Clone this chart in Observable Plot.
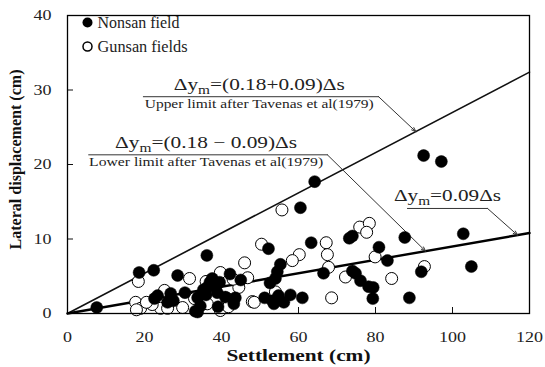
<!DOCTYPE html>
<html><head><meta charset="utf-8">
<script src="https://cdn.jsdelivr.net/npm/d3@7"></script>
<script src="https://cdn.jsdelivr.net/npm/@observablehq/plot@0.6"></script>
<style>
body{margin:0;background:#fff}
svg{font-family:"Liberation Serif","Times New Roman",serif}
</style>
</head><body><div id="chart"></div>
<script>
// ---- data (settlement cm, lateral displacement cm) ----
const nonsanSettlement = [7.6,18.6,22.4,36.2,28.6,52.2,64.2,60.5,63.3,55.3,54.5,54.0,66.5,73.2,74.0,74.0,74.8,76.1,78.2,79.4,79.3,80.9,61.0,57.9,54.8,53.2,92.5,97.1,87.6,102.8,83.1,104.9,91.9,88.8,42.2,37.0,39.5,35.3,27.5,33.8,33.8,39.1,43.6,51.2,52.6,23.4,22.6,26.0,43.2,53.6,56.2,38.5,36.0,41.0,45.0,34.5,30.5,26.8,36.3,37.6,38.9,33.2];
const nonsanLateral    = [0.8,5.5,5.8,7.8,5.1,8.7,17.7,14.2,9.5,6.6,5.6,4.7,5.4,10.1,10.4,5.7,5.4,4.4,3.6,3.5,2.0,8.9,2.1,2.5,2.4,1.7,21.2,20.4,10.2,10.7,7.1,6.3,5.6,2.1,5.3,4.2,4.2,3.2,1.7,2.1,0.2,0.9,2.1,2.1,4.1,2.4,2.0,1.5,1.3,1.3,1.5,3.6,2.5,2.2,4.5,1.0,2.8,2.7,3.5,4.7,2.8,0.3];
const gunsanSettlement = [18.4,31.7,50.4,46.0,39.7,46.8,29.9,39.7,36.3,41.5,48.0,55.7,67.2,67.5,60.2,58.4,67.8,75.9,78.4,77.7,72.2,79.9,68.6,54.0,92.7,84.2,17.7,19.0,24.2,25.2,26.0,17.9,41.8,48.5,22.0,20.5,33.0,44.5,36.0,43.0];
const gunsanLateral    = [4.3,4.7,9.3,6.8,5.5,4.8,0.8,0.4,1.3,2.0,1.6,13.9,9.5,7.9,7.9,7.1,6.2,11.6,12.1,10.9,4.9,7.6,2.1,2.9,6.3,4.7,1.5,0.7,0.7,3.1,0.7,0.5,0.9,1.5,1.2,1.5,2.0,3.5,4.3,4.6];

const seriesNames = ["Nonsan field", "Gunsan fields"];
const xLabel = "Settlement (cm)";
const yLabel = "Lateral displacement (cm)";
const xTicks = [0,20,40,60,80,100,120];
const yTicks = [0,10,20,30,40];
const xInnerTicks = [20,40,60,80,100];
const yInnerTicks = [10,20,30];

// bounding lines (endpoints, settlement -> displacement)
const upperLineX = [0,120], upperLineY = [0,32.4];   // 0.27 Δs
const lowerLineX = [0,120], lowerLineY = [0,10.8];   // 0.09 Δs

// annotations
const formulaLabels = ["Δym=(0.18+0.09)Δs", "Δym=(0.18 − 0.09)Δs", "Δym=0.09Δs"];
const limitLabels = ["Upper limit after Tavenas et al(1979)", "Lower limit after Tavenas et al(1979)", ""];
const leaderStartX = [19.7, 5.5, 88.3];
const leaderBendX  = [80.8, 67.5, 109.1];
const leaderY      = [29.1, 21.3, 14.1];
const leaderTipX   = [90.5, 93.0, 116.9];
const leaderTipY   = [24.4, 8.37, 10.52];
const formulaX     = [49.8, 36.0, 98.7];

// rendered widths of texts (px) – the reference type is horizontally stretched
const formulaWidths = [171, 182, 107];
const limitWidths = [229, 234];
const legendWidths = [82, 90];
const xLabelWidth = 144, yLabelWidth = 180;

const nonsan = nonsanSettlement.map((s,i)=>({s, d:nonsanLateral[i]}));
const gunsan = gunsanSettlement.map((s,i)=>({s, d:gunsanLateral[i]}));
const upper = upperLineX.map((x,i)=>({x, y:upperLineY[i]}));
const lower = lowerLineX.map((x,i)=>({x, y:lowerLineY[i]}));
const ann = formulaLabels.map((f,i)=>({f, l:limitLabels[i], x0:leaderStartX[i], x1:leaderBendX[i], y:leaderY[i], tx:leaderTipX[i], ty:leaderTipY[i], fx:formulaX[i]}));
const underlines = ann.flatMap((a,i)=>[{i, x:a.x0, y:a.y},{i, x:a.x1, y:a.y}]);

const W = 545, H = 367, mL = 67, mR = 16, mT = 15, mB = 54;
const innerW = W - mL - mR, innerH = H - mT - mB;

const chart = Plot.plot({
  width: W, height: H,
  marginLeft: mL, marginRight: mR, marginTop: mT, marginBottom: mB,
  x: {domain: [0,120]},
  y: {domain: [0,40]},
  style: {fontFamily: '"Liberation Serif","Times New Roman",serif', background: "#fff"},
  marks: [
    Plot.axisX({ticks: xTicks, tickSize: 0, tickPadding: 18, fontSize: 15, fill: "#222", label: null}),
    Plot.axisY({ticks: yTicks, tickSize: 0, tickPadding: 16, fontSize: 15, fill: "#222", label: null}),
    Plot.ruleX(xInnerTicks, {x: d=>d, insetTop: innerH - 6, stroke: "#111", strokeWidth: 1}),
    Plot.ruleY(yInnerTicks, {y: d=>d, insetRight: innerW - 6, stroke: "#111", strokeWidth: 1}),
    Plot.line(upper, {x:"x", y:"y", stroke:"#111", strokeWidth:1.6}),
    Plot.line(lower, {x:"x", y:"y", stroke:"#000", strokeWidth:2.4}),
    Plot.line(underlines, {x:"x", y:"y", z:"i", stroke:"#333", strokeWidth:1}),
    Plot.arrow(ann, {x1:"x1", y1:"y", x2:"tx", y2:"ty", stroke:"#333", strokeWidth:1, headLength:7, headAngle:40}),
    Plot.dot(gunsan, {x:"s", y:"d", r:6, fill:"#fff", stroke:"#000", strokeWidth:1}),
    Plot.dot(nonsan, {x:"s", y:"d", r:6, fill:"#000", stroke:"#000", strokeWidth:0.5}),
    Plot.text(ann, {x:"fx", y:"y", text:"f", lineAnchor:"bottom", dy:-7, fontSize:17, fill:"#222"}),
    Plot.text(ann.filter(a=>a.l), {x:"fx", y:"y", text:"l", lineAnchor:"top", dy:2, fontSize:13, fill:"#222"}),
    Plot.dot([seriesNames[0]], {frameAnchor:"top-left", dx:20, dy:7, r:5, fill:"#000"}),
    Plot.dot([seriesNames[1]], {frameAnchor:"top-left", dx:20, dy:31, r:4.5, fill:"#fff", stroke:"#000"}),
    Plot.text([seriesNames[0]], {frameAnchor:"top-left", dx:30, dy:7, lineAnchor:"middle", text:d=>d, textAnchor:"start", fontSize:16, fill:"#222"}),
    Plot.text([seriesNames[1]], {frameAnchor:"top-left", dx:30, dy:31, lineAnchor:"middle", text:d=>d, textAnchor:"start", fontSize:16, fill:"#222"}),
    Plot.text([xLabel], {frameAnchor:"bottom", dy:47, text:d=>d, fontSize:16, fontWeight:"bold", fill:"#111"}),
    Plot.text([yLabel], {frameAnchor:"left", dx:-52, dy:-5, rotate:-90, textAnchor:"middle", text:d=>d, fontSize:16, fontWeight:"bold", fill:"#111"}),
    Plot.frame({stroke:"#000", strokeWidth:1.3})
  ]
});
document.getElementById("chart").appendChild(chart);

const fixed = new Map();
formulaLabels.forEach((f,i)=>fixed.set(f, formulaWidths[i]));
limitLabels.forEach((l,i)=>{ if (l) fixed.set(l, limitWidths[i]); });
seriesNames.forEach((n,i)=>fixed.set(n, legendWidths[i]));
fixed.set(xLabel, xLabelWidth); fixed.set(yLabel, yLabelWidth);

chart.querySelectorAll("text").forEach(t=>{
  const s = t.textContent;
  if (t.children.length === 0 && s.startsWith("Δym")) {
    t.textContent = "";
    const ns = "http://www.w3.org/2000/svg";
    t.appendChild(document.createTextNode("Δy"));
    const sub = document.createElementNS(ns,"tspan");
    sub.setAttribute("dy","4"); sub.setAttribute("font-size","0.72em"); sub.textContent = "m";
    const rest = document.createElementNS(ns,"tspan");
    rest.setAttribute("dy","-4"); rest.textContent = s.slice(3);
    t.appendChild(sub); t.appendChild(rest);
  }
  let w = fixed.get(s);
  if (w === undefined) { const c = t.getComputedTextLength(); if (c > 0) w = c * 1.2; }
  if (w) { t.setAttribute("textLength", w.toFixed(1)); t.setAttribute("lengthAdjust","spacingAndGlyphs"); }
});
</script>
</body></html>
